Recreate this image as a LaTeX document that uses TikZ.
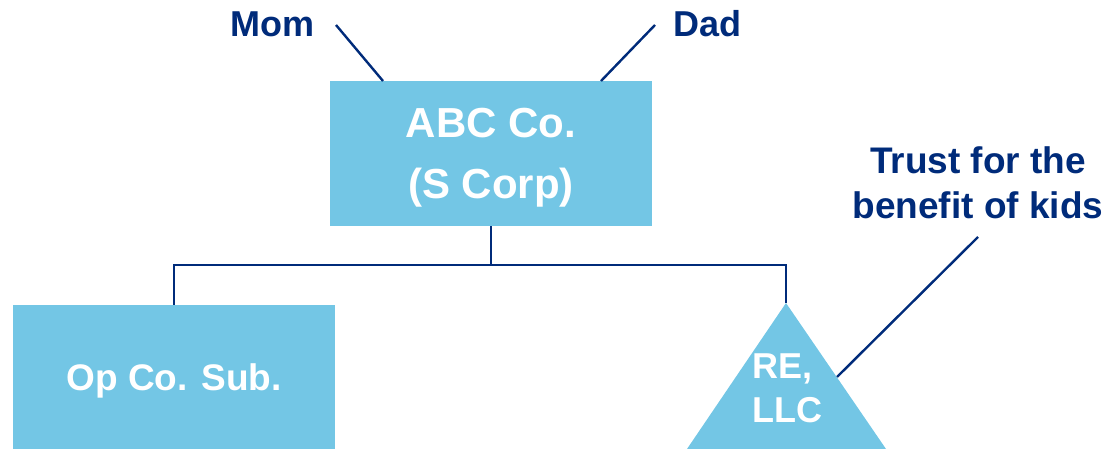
\documentclass[tikz,border=0pt]{standalone}
\usepackage{fontspec}
\setmainfont{Liberation Sans}
\definecolor{boxblue}{HTML}{73C6E5}
\definecolor{navy}{HTML}{002B7A}

\begin{document}
\begin{tikzpicture}[x=1pt,y=-1pt,
  entity/.style={fill=boxblue, inner sep=0pt, text=white, text depth=0pt,
    font=\bfseries\fontsize{42}{61}\selectfont, align=center},
  owner/.style={text=navy, inner sep=0pt, align=center,
    font=\bfseries\fontsize{36}{45}\selectfont},
  link/.style={draw=navy, line width=2.4pt}]
\useasboundingbox (0,0) rectangle (1109,449);

% corporations
\node[entity, minimum width=322pt, minimum height=145pt] (abc) at (491,153.5) {ABC Co.\\(S Corp)};
\node[entity, minimum width=322pt, minimum height=144pt,
      font=\bfseries\fontsize{37}{44}\selectfont] (op) at (174,377) {Op Co. Sub.};

% RE, LLC triangle
\coordinate (reapex) at (786,303);
\coordinate (releft) at (687,449);
\coordinate (reright) at (886,449);
\fill[boxblue] (reapex) -- (releft) -- (reright) -- cycle;
\node[text=white, inner sep=0pt, align=left, anchor=north west,
      font=\bfseries\fontsize{36}{44}\selectfont] (re) at (752,354) {RE,\\LLC};

% owners
\node[owner, anchor=base] (mom) at (272.5,37) {Mom};
\node[owner, anchor=base] (dad) at (707.5,37) {Dad};
\node[owner, anchor=north, font=\bfseries\fontsize{37}{45}\selectfont]
      (trust) at (978,146) {Trust for the\\benefit of kids};

% ownership lines
\coordinate (momtip) at (336,25);
\coordinate (momfoot) at (383,81);
\coordinate (dadtip) at (655,25);
\coordinate (dadfoot) at (601,81);
\coordinate (trusttip) at (978,237);
\coordinate (trustfoot) at (837,377);
\draw[link] (momtip) -- (momfoot);
\draw[link] (dadtip) -- (dadfoot);
\draw[link] (trusttip) -- (trustfoot);

% subsidiaries bus
\coordinate (bus) at (491,265);
\draw[link] (abc.south) -- (bus);
\draw[link] (op.north) |- (bus) -| (reapex);
\end{tikzpicture}
\end{document}
